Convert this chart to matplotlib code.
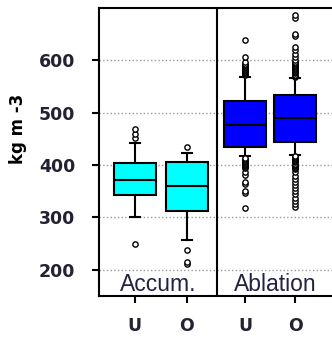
import matplotlib
matplotlib.use("Agg")
import matplotlib.pyplot as plt

# snow/ice density by zone (U / O), summary stats per box
labels = ["U", "O", "U", "O"]
positions = [1, 2, 3.12, 4.08]
colors = ["#00FFFF", "#00FFFF", "#0000FF", "#0000FF"]

q1 = [343, 313, 435, 445]
med = [372, 360, 477, 489]
q3 = [404, 405, 523, 534]
whislo = [300, 256, 418, 420]
whishi = [442, 423, 569, 566]

fliers_accum_u = [249, 452, 460, 468]
fliers_accum_o = [211, 215, 238, 434]
fliers_abl_u = [318, 347, 350, 364, 367, 381, 387,
                394, 396, 398, 400, 402, 404, 406, 408, 410, 412, 414,
                572, 574, 576, 578, 580, 582, 584, 586, 588, 590, 592, 594,
                596, 606, 638]
fliers_abl_o = [320, 326, 332, 338, 344, 350, 356, 362, 368, 374, 380, 386,
                392, 395, 397, 399, 401, 403, 405, 407, 409, 411, 413, 415,
                417,
                569, 571, 573, 575, 577, 579, 581, 583, 585, 587, 589, 591,
                593, 595, 597, 600, 606, 613, 619, 625,
                646, 651, 680, 687]
fliers = [fliers_accum_u, fliers_accum_o, fliers_abl_u, fliers_abl_o]

zones = ["Accum.", "Ablation"]

stats = []
for i in range(4):
    stats.append(dict(q1=q1[i], med=med[i], q3=q3[i], whislo=whislo[i],
                      whishi=whishi[i], fliers=fliers[i]))

fig = plt.figure(figsize=(3.32, 3.37), dpi=100)
ax = fig.add_axes([99 / 332, 41 / 337, 233 / 332, 288 / 337])

bp = ax.bxp(stats, positions=positions, widths=0.8, capwidths=0.2,
            patch_artist=True,
            boxprops=dict(linewidth=1.5, edgecolor="black"),
            medianprops=dict(linewidth=1.5, color="black"),
            whiskerprops=dict(linewidth=1.5, color="black"),
            capprops=dict(linewidth=1.5, color="black"),
            flierprops=dict(marker="o", markersize=3.8, markerfacecolor="white",
                            markeredgecolor="black", markeredgewidth=1.0))
for patch, c in zip(bp["boxes"], colors):
    patch.set_facecolor(c)

ax.set_xlim(0.31, 4.79)
ax.set_ylim(150, 700)
ax.set_yticks([200, 300, 400, 500, 600])
ax.set_xticks(positions)
ax.set_xticklabels(labels)

ax.set_axisbelow(True)
ax.yaxis.grid(True, linestyle=":", color="#999999", linewidth=1)
ax.axvline(2.577, color="black", linewidth=1.5)

for side in ["left", "top", "bottom"]:
    ax.spines[side].set_linewidth(1.5)
ax.spines["right"].set_visible(False)

ax.tick_params(axis="both", direction="out", length=5, width=1.5)
ax.tick_params(axis="y", pad=12)
ax.tick_params(axis="x", pad=10)
for t in ax.get_yticklabels():
    t.set_fontsize(12.5)
    t.set_fontweight("bold")
    t.set_color("#222233")
for t in ax.get_xticklabels():
    t.set_fontsize(12.5)
    t.set_fontweight("bold")
    t.set_color("#222233")

ax.text(1.44, 160, zones[0], ha="center", va="baseline", fontsize=16.5,
        family="Liberation Sans", color="#222244")
ax.text(3.70, 160, zones[1], ha="center", va="baseline", fontsize=16.5,
        family="Liberation Sans", color="#222244")

fig.text(18 / 332, 1 - 129 / 337, "kg m -3", rotation=90, ha="center",
         va="center", fontsize=12, fontweight="bold")

fig.savefig("out.png", dpi=100)
